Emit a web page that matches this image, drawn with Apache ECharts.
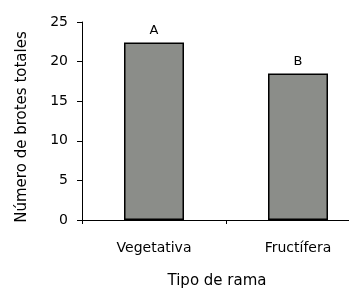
<!DOCTYPE html>
<html>
<head>
<meta charset="utf-8">
<script src="https://cdn.jsdelivr.net/npm/echarts@6/dist/echarts.min.js"></script>
<style>
  html, body { margin: 0; padding: 0; background: #fff; }
  #chart { width: 349px; height: 291px; }
</style>
</head>
<body>
<div id="chart"></div>
<script>
// data
var categories = ["Vegetativa", "Fructífera"];
var values = [22.4, 18.5];
var letters = ["A", "B"];

var chart = echarts.init(document.getElementById("chart"));

var option = {
    animation: false,
    textStyle: { fontFamily: "DejaVu Sans" },
    grid: { left: 82, top: 22, width: 288, height: 198, outerBoundsMode: "none", containLabel: false },
    xAxis: {
        type: "category",
        data: categories,
        name: "Tipo de rama",
        nameLocation: "middle",
        nameGap: 54,
        nameTextStyle: { color: "#000", fontSize: 15, padding: [0, 18, 0, 0] },
        axisLine: { lineStyle: { color: "#000", width: 1 } },
        axisTick: { show: true, length: 4, lineStyle: { color: "#000" } },
        axisLabel: { color: "#000", fontSize: 14, margin: 21 }
    },
    yAxis: {
        type: "value",
        min: 0,
        max: 25,
        interval: 5,
        name: "Número de brotes totales",
        nameLocation: "middle",
        nameGap: 52,
        nameTextStyle: { color: "#000", fontSize: 15, padding: [0, 12, 0, 0] },
        axisLine: { show: true, lineStyle: { color: "#000", width: 1 } },
        axisTick: { show: true, length: 5, lineStyle: { color: "#000" } },
        axisLabel: { color: "#000", fontSize: 14, margin: 14 },
        splitLine: { show: false }
    },
    series: [{
        type: "bar",
        data: values,
        barWidth: 60,
        itemStyle: { color: "#8b8d89", borderColor: "#000", borderWidth: 1.5 },
        label: {
            show: true,
            position: "top",
            distance: 5,
            color: "#000",
            fontSize: 13,
            formatter: function (p) { return letters[p.dataIndex]; }
        }
    }]
};

chart.setOption(option);
</script>
</body>
</html>
